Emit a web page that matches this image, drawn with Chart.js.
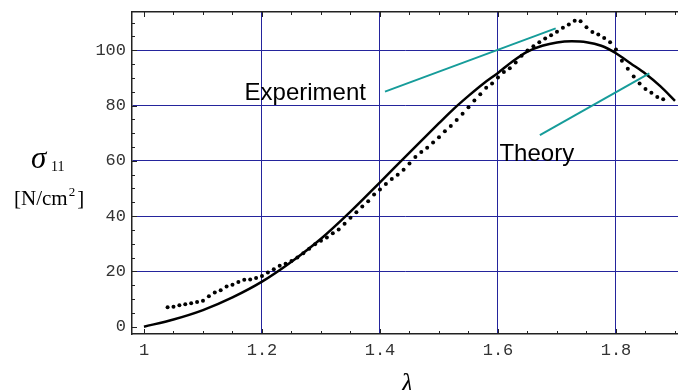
<!DOCTYPE html>
<html>
<head>
<meta charset="utf-8">
<script src="https://cdn.jsdelivr.net/npm/chart.js@4.4.1/dist/chart.umd.min.js"></script>
<style>
  body { margin: 0; background: #fff; }
  #wrap { position: relative; width: 678px; height: 390px; }
</style>
</head>
<body>
<div id="wrap"><canvas id="stressChart" width="678" height="390"></canvas></div>
<script>
// stretch ratio λ and stress σ11 [N/cm²]
const lambdaTheory = [1.0, 1.05, 1.1, 1.15, 1.2, 1.25, 1.3, 1.35, 1.4, 1.45, 1.5, 1.525, 1.55,
    1.575, 1.6, 1.625, 1.65, 1.675, 1.7, 1.725, 1.75, 1.775, 1.8, 1.825, 1.85, 1.875, 1.9];
const sigmaTheory = [0, 2.6, 6.0, 10.6, 16.3, 23.5, 31.8, 41.6, 52.2, 63.0, 73.6, 78.8, 83.5,
    87.9, 91.8, 96.0, 99.5, 101.6, 102.8, 103.2, 102.9, 101.6, 98.9, 95.2, 91.5, 87.0, 81.7];

const lambdaExp = [1.04, 1.05, 1.06, 1.07, 1.08, 1.09, 1.10, 1.11, 1.12, 1.13, 1.14, 1.15,
    1.16, 1.17, 1.18, 1.19, 1.20, 1.21, 1.22, 1.23, 1.24, 1.25, 1.26, 1.27, 1.28, 1.29, 1.30,
    1.31, 1.32, 1.33, 1.34, 1.35, 1.36, 1.37, 1.38, 1.39, 1.40, 1.41, 1.42, 1.43, 1.44, 1.45,
    1.46, 1.47, 1.48, 1.49, 1.50, 1.51, 1.52, 1.53, 1.54, 1.55, 1.56, 1.57, 1.58, 1.59, 1.60,
    1.61, 1.62, 1.63, 1.64, 1.65, 1.66, 1.67, 1.68, 1.69, 1.70, 1.71, 1.72, 1.73, 1.74, 1.75,
    1.76, 1.77, 1.78, 1.79, 1.80, 1.81, 1.82, 1.83, 1.84, 1.85, 1.86, 1.87, 1.88];
const sigmaExp = [7.0, 7.2, 7.8, 8.1, 8.5, 8.9, 9.4, 11.0, 12.4, 13.2, 14.5, 15.2,
    16.2, 17.0, 17.1, 17.6, 18.3, 19.6, 20.8, 22.0, 22.8, 23.8, 25.0, 26.6, 28.2, 29.8, 31.1,
    32.3, 33.8, 35.2, 37.2, 39.4, 41.4, 43.5, 45.4, 47.8, 49.6, 51.6, 53.4, 55.0, 56.8, 59.0,
    61.4, 63.2, 64.7, 66.6, 68.5, 70.7, 72.6, 74.8, 77.0, 79.4, 81.8, 84.1, 86.4, 88.0, 90.1,
    92.1, 93.5, 95.6, 98.0, 99.9, 101.4, 102.9, 104.2, 105.4, 106.7, 108.1, 109.3, 110.7, 110.5, 108.3,
    106.6, 105.7, 104.4, 102.9, 100.3, 96.2, 93.3, 90.5, 88.0, 86.0, 84.6, 83.1, 82.3];

// pointer lines of the two labels
const expPointerX = [1.4085, 1.6978];
const expPointerY = [85.0, 107.9];
const theoryPointerX = [1.671, 1.8565];
const theoryPointerY = [69.3, 91.6];
const expLabelAt = [1.1705, 82.0];
const theoryLabelAt = [1.6025, 59.9];

const xTickValues = [1, 1.2, 1.4, 1.6, 1.8];
const yTickValues = [0, 20, 40, 60, 80, 100];
const xMinorTicks = [1.05, 1.1, 1.15, 1.25, 1.3, 1.35, 1.45, 1.5, 1.55, 1.65, 1.7, 1.75, 1.85, 1.9];
const yMinorTicks = [5, 10, 15, 25, 30, 35, 45, 50, 55, 65, 70, 75, 85, 90, 95, 105, 110];

const gridBlue = '#24249c';
const teal = '#169c9a';

function toPoints(xs, ys) {
    return xs.map((x, i) => ({ x: x, y: ys[i] }));
}

// fixed frame: no extra padding around the plot
function fixBox(w, h) {
    return s => {
        if (w !== null) s.width = w;
        if (h !== null) s.height = h;
        s.paddingLeft = 0; s.paddingRight = 0; s.paddingTop = 0; s.paddingBottom = 0;
    };
}

// ticks pointing inward on the frame, labels and axis titles
const frameExtras = {
    id: 'frameExtras',
    afterDraw(chart) {
        const ctx = chart.ctx;
        const a = chart.chartArea;
        const xs = chart.scales.x;
        const ys = chart.scales.y;
        ctx.save();
        ctx.strokeStyle = '#222';
        ctx.lineWidth = 1;
        ctx.beginPath();
        xTickValues.concat(xMinorTicks).forEach(v => {
            const len = xTickValues.includes(v) ? 5 : 3;
            const px = Math.round(xs.getPixelForValue(v)) + 0.5;
            ctx.moveTo(px, a.bottom); ctx.lineTo(px, a.bottom - len);
            ctx.moveTo(px, a.top); ctx.lineTo(px, a.top + len);
        });
        yTickValues.concat(yMinorTicks).forEach(v => {
            const len = yTickValues.includes(v) ? 5 : 3;
            const py = Math.round(ys.getPixelForValue(v)) + 0.5;
            ctx.moveTo(a.left, py); ctx.lineTo(a.left + len, py);
        });
        ctx.stroke();

        ctx.fillStyle = '#000';
        ctx.textBaseline = 'alphabetic';
        ctx.textAlign = 'left';
        ctx.font = '24px "Liberation Sans", Arial, sans-serif';
        ctx.fillText('Experiment', xs.getPixelForValue(expLabelAt[0]), ys.getPixelForValue(expLabelAt[1]));
        ctx.fillText('Theory', xs.getPixelForValue(theoryLabelAt[0]), ys.getPixelForValue(theoryLabelAt[1]));

        // x axis title
        ctx.textAlign = 'center';
        ctx.font = 'italic 27px "Liberation Serif", serif';
        ctx.fillText('λ', (a.left + a.right) / 2 + 2, 392);

        // y axis title
        ctx.textAlign = 'left';
        ctx.font = 'italic 31px "Liberation Serif", serif';
        ctx.fillText('σ', 31, 168);
        ctx.font = '14px "Liberation Serif", serif';
        ctx.fillText('11', 51, 171);
        ctx.font = '21px "Liberation Serif", serif';
        let x = 14;
        ctx.fillText('[N/cm', x, 205);
        x += ctx.measureText('[N/cm').width + 1;
        ctx.font = '13px "Liberation Serif", serif';
        ctx.fillText('2', x, 196);
        x += ctx.measureText('2').width + 2;
        ctx.font = '21px "Liberation Serif", serif';
        ctx.fillText(']', x, 205);
        ctx.restore();
    }
};

new Chart(document.getElementById('stressChart'), {
    type: 'line',
    data: {
        datasets: [
            {
                label: 'Experiment pointer',
                data: toPoints(expPointerX, expPointerY),
                borderColor: teal,
                borderWidth: 2,
                pointRadius: 0
            },
            {
                label: 'Theory pointer',
                data: toPoints(theoryPointerX, theoryPointerY),
                borderColor: teal,
                borderWidth: 2,
                pointRadius: 0
            },
            {
                label: 'Theory',
                data: toPoints(lambdaTheory, sigmaTheory),
                borderColor: '#000',
                borderWidth: 2.5,
                pointRadius: 0,
                cubicInterpolationMode: 'monotone'
            },
            {
                label: 'Experiment',
                data: toPoints(lambdaExp, sigmaExp),
                showLine: false,
                pointRadius: 2,
                pointBorderWidth: 0,
                pointBackgroundColor: '#000',
                borderColor: '#000'
            }
        ]
    },
    options: {
        responsive: false,
        animation: false,
        devicePixelRatio: 1,
        layout: { padding: 0, autoPadding: false },
        scales: {
            x: {
                type: 'linear',
                position: 'bottom',
                min: 0.9797,
                max: 1.9051,
                afterBuildTicks: s => { s.ticks = xTickValues.map(v => ({ value: v })); },
                afterFit: fixBox(null, 56),
                grid: {
                    drawTicks: false,
                    color: c => c.tick && c.tick.value === 1 ? 'rgba(0,0,0,0)' : gridBlue,
                    lineWidth: 1
                },
                border: { color: '#222', width: 1.5 },
                ticks: {
                    padding: 6,
                    color: '#333',
                    font: { family: '"Liberation Mono", "Courier New", monospace', size: 17 },
                    callback: v => String(+Number(v).toFixed(1))
                }
            },
            xTop: {
                type: 'linear',
                position: 'top',
                min: 0.9797,
                max: 1.9051,
                afterFit: fixBox(null, 12),
                grid: { display: false, drawTicks: false },
                border: { color: '#222', width: 1.5 },
                ticks: { display: false }
            },
            y: {
                type: 'linear',
                min: -2.64,
                max: 113.82,
                afterBuildTicks: s => { s.ticks = yTickValues.map(v => ({ value: v })); },
                afterFit: fixBox(132, null),
                grid: {
                    drawTicks: false,
                    color: c => c.tick && c.tick.value === 0 ? 'rgba(0,0,0,0)' : gridBlue,
                    lineWidth: 1
                },
                border: { color: '#222', width: 1.5 },
                ticks: {
                    padding: 6,
                    color: '#333',
                    font: { family: '"Liberation Mono", "Courier New", monospace', size: 17 }
                }
            }
        },
        plugins: {
            legend: { display: false },
            tooltip: { enabled: false }
        }
    },
    plugins: [frameExtras]
});
</script>
</body>
</html>
